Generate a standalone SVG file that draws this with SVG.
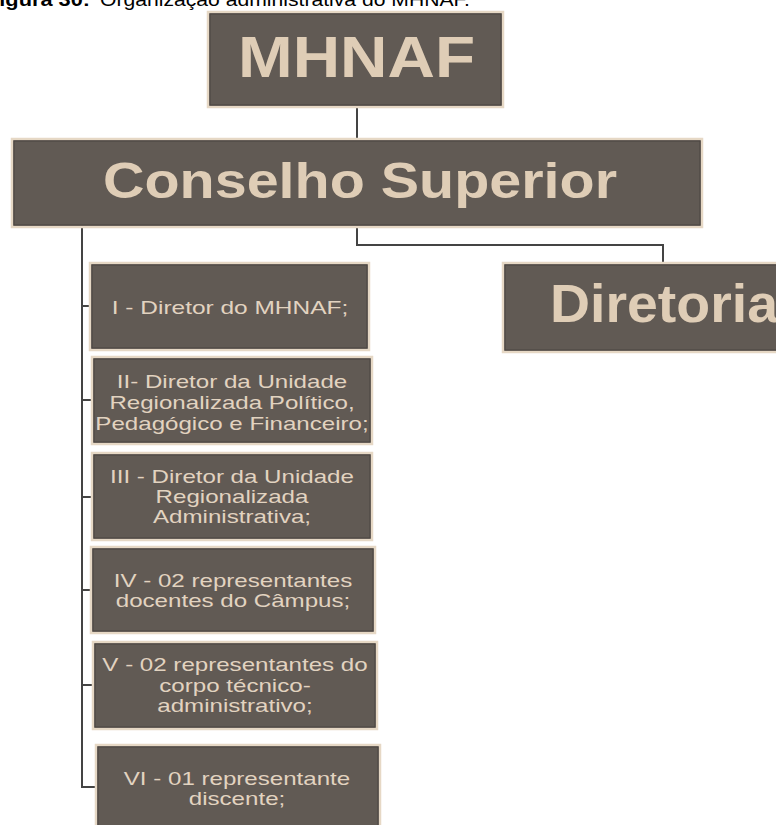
<svg xmlns="http://www.w3.org/2000/svg" width="776" height="825" viewBox="0 0 776 825">
<style>
.box{fill:#615a54;stroke:#e6d8c5;stroke-width:2.5}
.inner{fill:none;stroke:#4a4541;stroke-width:1}
.big{font-family:"Liberation Sans",Arial,sans-serif;font-weight:bold;fill:#dfcdb6}
.sm{font-family:"Liberation Sans",Arial,sans-serif;font-size:18px;fill:#e2d3c0;text-anchor:middle}
.con{fill:none;stroke:#444;stroke-width:2}
.cap{font-family:"Liberation Sans",Arial,sans-serif;font-size:19px;fill:#000}
</style>
<rect width="776" height="825" fill="#fff"/>
<text class="cap" x="90" y="6" text-anchor="end" font-weight="bold" textLength="104" lengthAdjust="spacingAndGlyphs">Figura 30:</text>
<text class="cap" x="100" y="6" textLength="370" lengthAdjust="spacingAndGlyphs">Organização administrativa do MHNAF.</text>
<g id="connectors">
<path class="con" d="M357 107V139"/>
<path class="con" d="M357 227V245H663V263"/>
<path class="con" d="M82 227V787H96"/>
<path class="con" d="M82 306H90M82 400H92M82 497H92M82 590H91M82 685H93"/>
</g>
<g id="mhnaf">
<rect class="box" x="208" y="12" width="295" height="95"/>
<rect class="inner" x="210" y="14" width="291" height="91"/>
<text class="big" x="238" y="77" font-size="58" textLength="237" lengthAdjust="spacingAndGlyphs">MHNAF</text>
</g>
<g id="conselho">
<rect class="box" x="12" y="139" width="690" height="88"/>
<rect class="inner" x="14" y="141" width="686" height="84"/>
<text class="big" x="103" y="198" font-size="50" textLength="514" lengthAdjust="spacingAndGlyphs">Conselho Superior</text>
</g>
<g id="diretoria">
<rect class="box" x="503" y="263" width="290" height="89"/>
<rect class="inner" x="505" y="265" width="290" height="85"/>
<text class="big" x="550" y="322" font-size="54" textLength="228" lengthAdjust="spacingAndGlyphs">Diretoria</text>
</g>
<g id="item1">
<rect class="box" x="90" y="263" width="279" height="87"/>
<rect class="inner" x="92" y="265" width="275" height="83"/>
<text class="sm" transform="translate(230 314) scale(1.36 1)">I - Diretor do MHNAF;</text>
</g>
<g id="item2">
<rect class="box" x="92" y="357" width="280" height="87"/>
<rect class="inner" x="94" y="359" width="276" height="83"/>
<text class="sm" transform="translate(232 0) scale(1.34 1)"><tspan x="0" y="388">II- Diretor da Unidade</tspan><tspan x="0" y="409">Regionalizada Político,</tspan><tspan x="0" y="430">Pedagógico e Financeiro;</tspan></text>
</g>
<g id="item3">
<rect class="box" x="92" y="453" width="280" height="87"/>
<rect class="inner" x="94" y="455" width="276" height="83"/>
<text class="sm" transform="translate(232 0) scale(1.34 1)"><tspan x="0" y="483">III - Diretor da Unidade</tspan><tspan x="0" y="503">Regionalizada</tspan><tspan x="0" y="523">Administrativa;</tspan></text>
</g>
<g id="item4">
<rect class="box" x="91" y="547" width="284" height="86"/>
<rect class="inner" x="93" y="549" width="280" height="82"/>
<text class="sm" transform="translate(233 0) scale(1.34 1)"><tspan x="0" y="587">IV - 02 representantes</tspan><tspan x="0" y="607">docentes do Câmpus;</tspan></text>
</g>
<g id="item5">
<rect class="box" x="93" y="642" width="284" height="87"/>
<rect class="inner" x="95" y="644" width="280" height="83"/>
<text class="sm" transform="translate(235 0) scale(1.34 1)"><tspan x="0" y="671">V - 02 representantes do</tspan><tspan x="0" y="692">corpo técnico-</tspan><tspan x="0" y="712">administrativo;</tspan></text>
</g>
<g id="item6">
<rect class="box" x="96" y="745" width="284" height="95"/>
<rect class="inner" x="98" y="747" width="280" height="91"/>
<text class="sm" transform="translate(237 0) scale(1.34 1)"><tspan x="0" y="785">VI - 01 representante</tspan><tspan x="0" y="805">discente;</tspan></text>
</g>
</svg>
